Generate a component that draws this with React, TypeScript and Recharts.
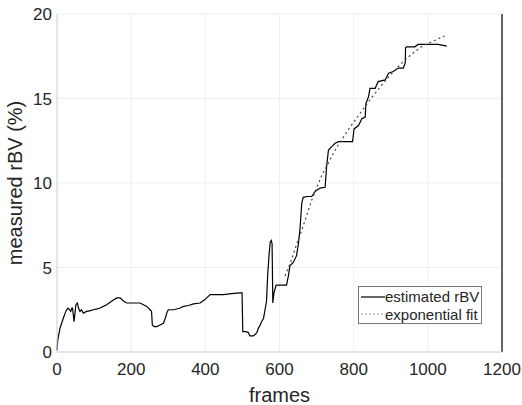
import {
  LineChart,
  Line,
  XAxis,
  YAxis,
  CartesianGrid,
  ReferenceLine,
} from 'recharts';

// estimated rBV trace (frame, %)
const rbvFrames = [
  0, 2, 8, 17, 22, 26, 30, 34, 37, 40, 42, 46, 49, 51, 55, 58, 62, 66, 71, 80,
  90, 98, 108, 116, 125, 134, 147, 161, 170, 180, 188, 205, 224, 233, 242, 251,
  255, 257, 262, 269, 278, 287, 292, 296, 300, 315, 332, 341, 355, 368, 386,
  399, 413, 430, 449, 470, 494, 499, 501, 510, 516, 520, 529, 535, 539, 543,
  548, 552, 557, 561, 565, 568, 572, 575, 578, 580, 582, 585, 591, 605, 619,
  622, 624, 628, 637, 646, 651, 655, 660, 664, 675, 687, 696, 709, 723, 727,
  732, 741, 750, 759, 780, 797, 801, 813, 822, 831, 833, 840, 844, 858, 866,
  885, 894, 907, 920, 934, 939, 940, 943, 965, 974, 1001, 1028, 1051,
];
const rbvValues = [
  0.1, 0.7, 1.4, 2.0, 2.3, 2.5, 2.6, 2.5, 2.4, 2.6, 2.6, 1.8, 2.4, 2.8, 2.9,
  2.6, 2.4, 2.5, 2.3, 2.4, 2.45, 2.5, 2.55, 2.6, 2.7, 2.8, 3.0, 3.2, 3.2, 3.0,
  2.9, 2.9, 2.9, 2.8, 2.7, 2.5, 2.4, 1.6, 1.5, 1.5, 1.6, 1.7, 2.0, 2.3, 2.5,
  2.5, 2.6, 2.7, 2.75, 2.85, 2.9, 3.1, 3.4, 3.4, 3.4, 3.45, 3.5, 3.5, 1.2, 1.2,
  1.15, 0.95, 0.95, 1.05, 1.15, 1.4, 1.6, 1.8, 2.0, 2.5, 3.0, 4.5, 5.8, 6.5,
  6.6, 6.4, 2.9, 3.5, 3.96, 3.96, 3.96, 4.3, 4.5, 5.1, 5.3, 5.7, 6.4, 7.2, 8.8,
  9.15, 9.2, 9.2, 9.5, 9.7, 9.75, 10.96, 11.95, 12.15, 12.35, 12.45, 12.45,
  12.45, 13.2, 13.4, 13.8, 13.9, 14.7, 15.1, 15.6, 15.6, 16.0, 16.1, 16.5,
  16.6, 16.8, 16.8, 17.1, 18.0, 18.06, 18.06, 18.2, 18.2, 18.2, 18.1,
];

// exponential fit curve
const fitFrames = [
  615, 630, 645, 660, 675, 687, 700, 715, 730, 745, 760, 775, 790, 805, 820,
  835, 850, 865, 880, 895, 910, 925, 940, 955, 970, 985, 1000, 1015, 1030, 1045,
];
const fitValues = [
  4.5, 5.3, 6.3, 7.2, 8.2, 9.0, 9.7, 10.5, 11.1, 11.75, 12.3, 12.8, 13.3,
  13.75, 14.2, 14.65, 15.1, 15.5, 15.9, 16.3, 16.65, 17.0, 17.3, 17.6, 17.85,
  18.1, 18.25, 18.4, 18.55, 18.7,
];

const xTicks = [0, 200, 400, 600, 800, 1000, 1200];
const yTicks = [0, 5, 10, 15, 20];

const rbvData = rbvFrames.map((f, i) => ({ frame: f, rbv: rbvValues[i] }));
const fitData = fitFrames.map((f, i) => ({ frame: f, fit: fitValues[i] }));

const font = '"Liberation Sans", Arial, sans-serif';
const tickStyle = { fill: '#262626', fontSize: 17, fontFamily: font };

function LegendBox() {
  return (
    <div
      style={{
        position: 'absolute',
        left: 358,
        top: 286,
        border: '1px solid #777',
        background: '#fff',
        width: 124,
        height: 38,
        fontFamily: font,
        fontSize: 15,
        color: '#262626',
        boxSizing: 'border-box',
        padding: '1px 0 0 1px',
        lineHeight: '17.5px',
        whiteSpace: 'nowrap',
      }}
    >
      <div style={{ display: 'flex', alignItems: 'center' }}>
        <svg width={25} height={10}>
          <line x1={1} y1={5} x2={25} y2={5} stroke="#000" strokeWidth={1.2} />
        </svg>
        <span>estimated rBV</span>
      </div>
      <div style={{ display: 'flex', alignItems: 'center' }}>
        <svg width={25} height={10}>
          <line x1={1} y1={5} x2={25} y2={5} stroke="#999" strokeDasharray="2 2" />
        </svg>
        <span>exponential fit</span>
      </div>
    </div>
  );
}

export default function App() {
  return (
    <div style={{ position: 'absolute', left: 0, top: 0, width: 522, height: 405, background: '#fff' }}>
      <LineChart
        width={522}
        height={405}
        margin={{ top: 14, right: 20, bottom: 23, left: 0 }}
      >
        <CartesianGrid stroke="#efefef" />
        <XAxis
          type="number"
          dataKey="frame"
          domain={[0, 1200]}
          ticks={xTicks}
          height={30}
          stroke="#d4d4d4"
          tickLine={false}
          tickSize={0}
          tick={tickStyle}
          tickMargin={11}
          label={{
            value: 'frames',
            position: 'insideBottom',
            offset: -20,
            style: { fill: '#262626', fontSize: 20, fontFamily: font },
          }}
        />
        <YAxis
          type="number"
          domain={[0, 20]}
          ticks={yTicks}
          width={57}
          stroke="#d4d4d4"
          tickLine={false}
          tickSize={0}
          tick={tickStyle}
          tickMargin={5}
          label={{
            value: 'measured rBV (%)',
            angle: -90,
            position: 'insideLeft',
            offset: 15,
            style: { fill: '#262626', fontSize: 20, fontFamily: font, textAnchor: 'middle' },
          }}
        />
        <ReferenceLine x={1200} stroke="#333" strokeWidth={1.5} />
        <Line
          data={rbvData}
          dataKey="rbv"
          type="linear"
          stroke="#000"
          strokeWidth={1.2}
          dot={false}
          isAnimationActive={false}
        />
        <Line
          data={fitData}
          dataKey="fit"
          type="linear"
          stroke="#444"
          strokeWidth={1.2}
          strokeDasharray="2 3"
          dot={false}
          isAnimationActive={false}
        />
      </LineChart>
      <LegendBox />
    </div>
  );
}
